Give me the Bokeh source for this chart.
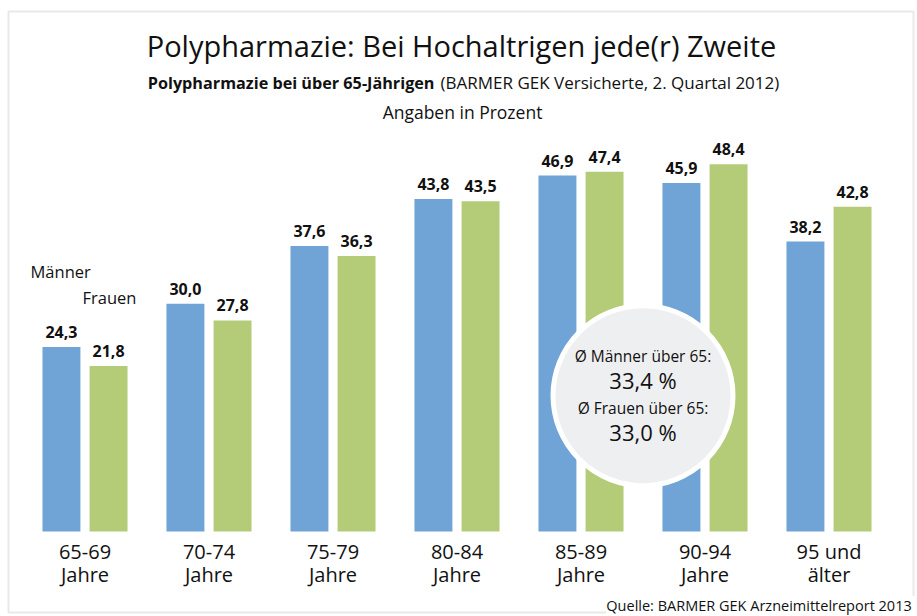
from bokeh.plotting import figure
from bokeh.models import ColumnDataSource, Range1d, Label, BoxAnnotation
from bokeh.transform import dodge
from bokeh.core.properties import value
from bokeh.embed import file_html
from bokeh.resources import INLINE

groups_top = ["65-69", "70-74", "75-79", "80-84", "85-89", "90-94", "95 und"]
groups_bottom = ["Jahre", "Jahre", "Jahre", "Jahre", "Jahre", "Jahre", "älter"]
maenner = [24.3, 30.0, 37.6, 43.8, 46.9, 45.9, 38.2]
frauen = [21.8, 27.8, 36.3, 43.5, 47.4, 48.4, 42.8]
avg_maenner = "33,4 %"
avg_frauen = "33,0 %"

BLUE = "#70a4d6"
GREEN = "#b4cb78"
FONT = "Open Sans"
W, H = 917, 616
PX_X = 124.0   # pixels per group
PX_Y = 7.59    # pixels per percent
X0 = 84.5      # pixel centre of first group
BASE = 531     # pixel row of bar baseline

def fmt(v):
    return f"{v:.1f}".replace(".", ",")

src = ColumnDataSource(dict(
    idx=list(range(len(groups_top))),
    top_lbl=groups_top, bot_lbl=groups_bottom,
    men=maenner, women=frauen,
    men_lbl=[fmt(v) for v in maenner], women_lbl=[fmt(v) for v in frauen],
))

xs = -X0 / PX_X
ys = -(H - BASE) / PX_Y
p = figure(width=W, height=H, x_range=Range1d(xs, xs + W / PX_X),
           y_range=Range1d(ys, ys + H / PX_Y),
           output_backend="svg", toolbar_location=None, min_border=0,
           x_axis_location=None, y_axis_location=None)
p.grid.visible = False
p.outline_line_color = None
p.background_fill_color = "white"
p.border_fill_color = "white"

off = 0.19
bw = 0.306
p.vbar(x=dodge("idx", -off, range=p.x_range), top="men", bottom=0, width=bw,
       source=src, fill_color=BLUE, line_color=None)
p.vbar(x=dodge("idx", off, range=p.x_range), top="women", bottom=0, width=bw,
       source=src, fill_color=GREEN, line_color=None)

p.text(x=dodge("idx", -off, range=p.x_range), y="men", text="men_lbl", source=src,
       y_offset=-15, text_align="center", text_baseline="middle",
       text_font=value(FONT), text_font_style="bold", text_font_size="16px", text_color="#111111")
p.text(x=dodge("idx", off, range=p.x_range), y="women", text="women_lbl", source=src,
       y_offset=-15, text_align="center", text_baseline="middle",
       text_font=value(FONT), text_font_style="bold", text_font_size="16px", text_color="#111111")

# category labels
p.text(x="idx", y=0, text="top_lbl", source=src, y_offset=20, text_align="center",
       text_baseline="middle", text_font=value(FONT), text_font_size="20px", text_color="#111111")
p.text(x="idx", y=0, text="bot_lbl", source=src, y_offset=43, text_align="center",
       text_baseline="middle", text_font=value(FONT), text_font_size="20px", text_color="#111111")

# circle with averages
p.scatter(x=[4.5], y=[17.9], marker="circle", size=180, fill_color="#eeeff0",
          line_color="white", line_width=5)
for txt, dy, fs in [("Ø Männer über 65:", 40, "15.5px"), (avg_maenner, 16, "22px"),
                    ("Ø Frauen über 65:", -12, "15.5px"), (avg_frauen, -36, "22px")]:
    p.add_layout(Label(x=4.5, y=17.9, y_offset=dy, text=txt, text_align="center",
                       text_baseline="middle", text_font=FONT, text_font_size=fs,
                       text_color="#111111"))

def lab(x, y_top, txt, size, align="center", bold=False, color="#111111", bg=None):
    kw = dict(x=x, y=H - y_top, x_units="screen", y_units="screen", text=txt,
              text_align=align, text_baseline="middle", text_font=FONT,
              text_font_size=size, text_color=color,
              text_font_style="bold" if bold else "normal")
    if bg:
        kw["background_fill_color"] = bg
    p.add_layout(Label(**kw))

lab(461, 45, "Polypharmazie: Bei Hochaltrigen jede(r) Zweite", "29px")
lab(434, 82, "Polypharmazie bei über 65-Jährigen", "16.2px", align="right", bold=True)
lab(440, 82, "(BARMER GEK Versicherte, 2. Quartal 2012)", "17px", align="left")
lab(462, 111, "Angaben in Prozent", "17.5px")
lab(30, 271, "Männer", "16.5px", align="left")
lab(82, 297, "Frauen", "16.5px", align="left")

p.add_layout(BoxAnnotation(left=8, right=913, top=H - 11, bottom=H - 612,
                           left_units="screen", right_units="screen",
                           top_units="screen", bottom_units="screen",
                           fill_alpha=0, line_color="#b5b5b5", line_width=2))
lab(915, 605, " Quelle: BARMER GEK Arzneimittelreport 2013", "14.5px", align="right", bg="white")

open("out.html", "w").write(file_html(p, INLINE))
